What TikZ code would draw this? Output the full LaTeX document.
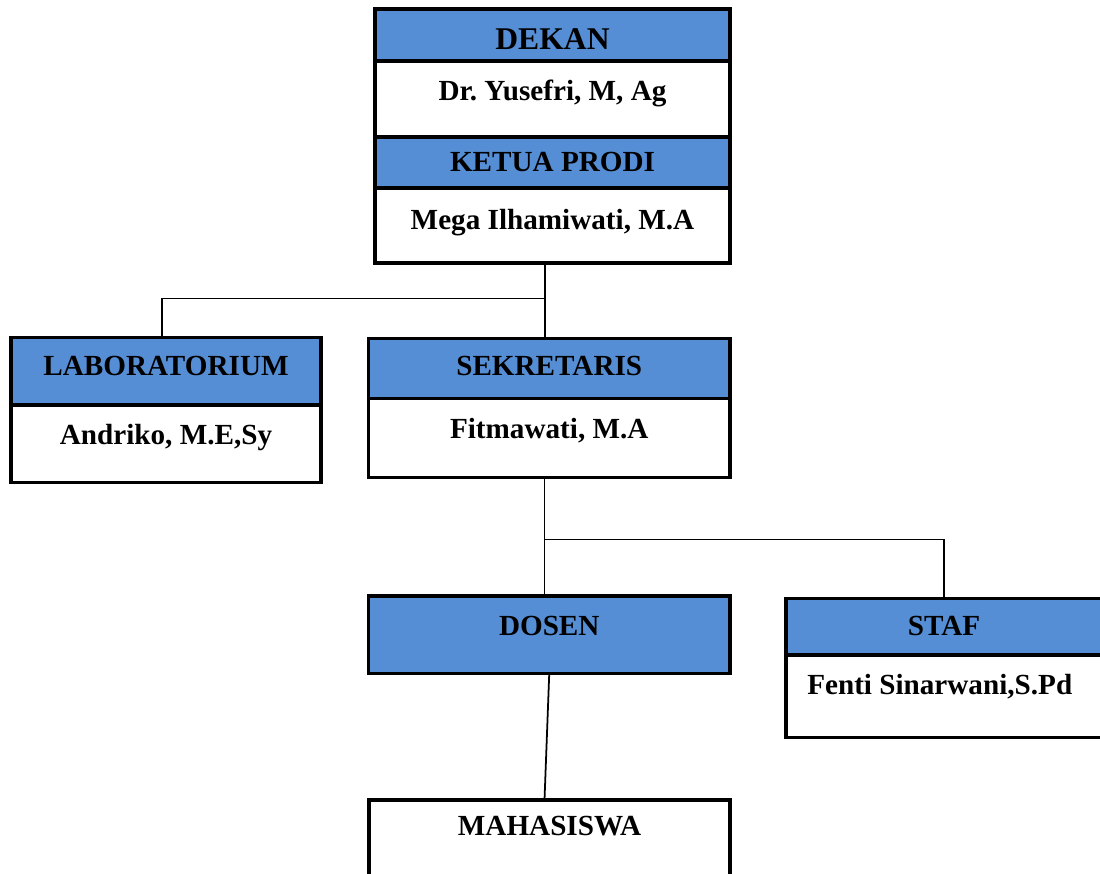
\documentclass[tikz,border=0pt]{standalone}
\usepackage{fontspec}
\setmainfont{Liberation Serif}
\usepackage{tikz}
\definecolor{hdrblue}{RGB}{85,142,213}
\frenchspacing

\begin{document}
\begin{tikzpicture}[x=0.02cm, y=-0.02cm,
	band/.style={draw, line width=1.9pt, inner sep=0pt, outer sep=0pt, anchor=north, font=\bfseries\fontsize{16.6}{20}\selectfont},
	head/.style={band, fill=hdrblue},
	link/.style={line width=1pt}]
	\useasboundingbox (0,0) rectangle (1100,874);
	% top box
	\node[head, minimum width=7.1cm, text height=0.82cm, text depth=0.22cm, font=\bfseries\fontsize{18}{21}\selectfont] (dekan) at (552.5,9) {DEKAN};
	\node[band, minimum width=7.1cm, text height=0.8cm, text depth=0.72cm] (yusefri) at (dekan.south) {Dr. Yusefri, M, Ag};
	\node[head, minimum width=7.1cm, text height=0.7cm, text depth=0.32cm] (kaprodi) at (yusefri.south) {KETUA PRODI};
	\node[band, minimum width=7.1cm, text height=0.84cm, text depth=0.66cm] (mega) at (kaprodi.south) {Mega Ilhamiwati, M.A};
	% second row
	\node[head, minimum width=6.2cm, text height=0.764cm, text depth=0.586cm] (lab) at (166,337.5) {LABORATORIUM};
	\node[band, minimum width=6.2cm, text height=0.8cm, text depth=0.75cm] (andriko) at (lab.south) {Andriko, M.E,Sy};
	\node[head, minimum width=7.23cm, text height=0.744cm, text depth=0.456cm] (sek) at (549.25,338.5) {SEKRETARIS};
	\node[band, minimum width=7.23cm, text height=0.796cm, text depth=0.78cm] (fitma) at (sek.south) {Fitmawati, M.A};
	% third row
	\node[head, minimum width=7.23cm, text height=0.794cm, text depth=0.752cm] (dosen) at (549.25,596) {DOSEN};
	\node[head, minimum width=6.32cm, text height=0.746cm, text depth=0.386cm] (staf) at (944,598.4) {STAF};
	\node[band, minimum width=6.32cm, text height=0.8cm, text depth=0.846cm] (fenti) at (staf.south) {\hspace*{-0.17cm}Fenti Sinarwani,S.Pd};
	\node[band, minimum width=7.22cm, text height=0.714cm, text depth=0.886cm] (maha) at (549.5,800) {MAHASISWA};
	% connectors
	\coordinate (j1) at (545,298.5);
	\coordinate (j1l) at (162,298.5);
	\draw[link] (j1 |- mega.south) -- (j1) -- (j1 |- sek.north);
	\draw[link] (j1) -- (j1l) -- (j1l |- lab.north);
	\coordinate (j2) at (544.5,539.5);
	\draw[link] (j2 |- fitma.south) -- (j2) -- (j2 |- dosen.north);
	\draw[link] (j2) -| (staf.north);
	\draw[link] (dosen.south) -- ([xshift=-0.1cm]maha.north);
\end{tikzpicture}
\end{document}
